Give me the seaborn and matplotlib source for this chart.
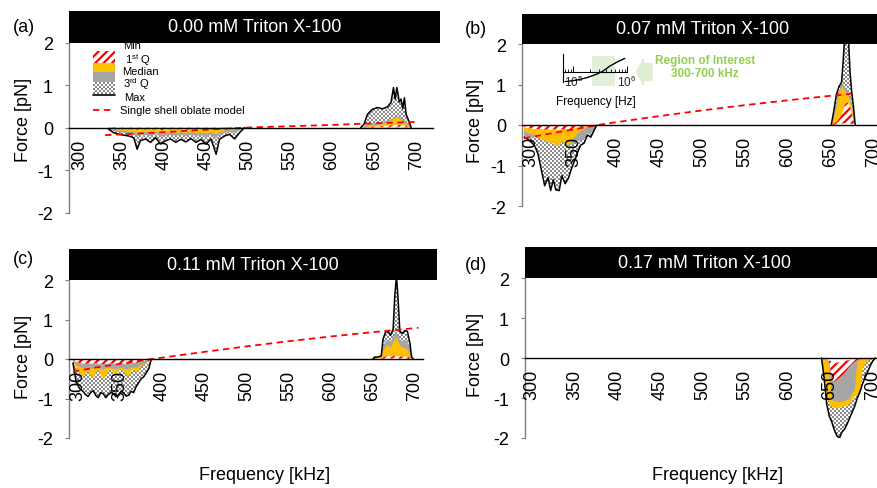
import numpy as np
import matplotlib
matplotlib.use("Agg")
import matplotlib.pyplot as plt
import seaborn as sns
from matplotlib.patches import Rectangle, FancyArrow
from matplotlib.lines import Line2D
from matplotlib.path import Path
from matplotlib.colors import ListedColormap
from matplotlib.ticker import LogLocator, NullFormatter

sns.set_theme(style="white")
plt.rcParams["font.family"] = ["Liberation Sans", "DejaVu Sans"]
plt.rcParams["mathtext.fontset"] = "custom"
plt.rcParams["mathtext.rm"] = "Liberation Sans"
plt.rcParams["mathtext.it"] = "Liberation Sans:italic"
plt.rcParams["mathtext.bf"] = "Liberation Sans:bold"
plt.rcParams["axes.unicode_minus"] = False
plt.rcParams["hatch.color"] = "#ff0000"
plt.rcParams["hatch.linewidth"] = 1.6
plt.rcParams["text.color"] = "black"

# ---------------- data ----------------
titles = ["0.00 mM Triton X-100", "0.07 mM Triton X-100",
          "0.11 mM Triton X-100", "0.17 mM Triton X-100"]
panel_letters = ["(a)", "(b)", "(c)", "(d)"]
xtick_values = [300, 350, 400, 450, 500, 550, 600, 650, 700]
ytick_values = [-2, -1, 0, 1, 2]

# (a) 0.00 mM
a_neg_freq = [334, 340, 346, 352, 358, 364, 368, 372, 378, 384, 390, 396, 402, 408, 414,
              420, 426, 432, 438, 444, 450, 456, 462, 466, 472, 478, 484, 490, 496]
a_neg_max = [-0.04, -0.12, -0.16, -0.18, -0.2, -0.24, -0.51, -0.31, -0.27, -0.35, -0.24, -0.39, -0.31, -0.27, -0.35,
             -0.28, -0.34, -0.26, -0.35, -0.28, -0.39, -0.27, -0.63, -0.28, -0.2, -0.16, -0.27, -0.12, 0.0]
a_neg_q3 = [-0.02, -0.08, -0.1, -0.12, -0.14, -0.15, -0.22, -0.18, -0.16, -0.2, -0.15, -0.22, -0.19, -0.17, -0.2,
            -0.17, -0.2, -0.16, -0.2, -0.18, -0.22, -0.17, -0.25, -0.17, -0.13, -0.1, -0.12, -0.06, 0.0]
a_neg_med = [-0.01, -0.05, -0.07, -0.08, -0.1, -0.1, -0.14, -0.12, -0.1, -0.13, -0.1, -0.14, -0.12, -0.11, -0.13,
             -0.11, -0.14, -0.1, -0.14, -0.12, -0.15, -0.11, -0.16, -0.11, -0.08, -0.06, -0.07, -0.03, 0.0]
a_neg_q1 = [0.0, -0.02, -0.03, -0.03, -0.04, -0.04, -0.05, -0.05, -0.04, -0.05, -0.04, -0.06, -0.05, -0.04, -0.05,
            -0.04, -0.05, -0.04, -0.05, -0.05, -0.06, -0.04, -0.06, -0.04, -0.03, -0.02, -0.03, -0.01, 0.0]
a_neg_min = [0.0, 0.0, -0.01, -0.01, -0.01, -0.01, -0.01, -0.01, -0.01, -0.01, -0.01, -0.01, -0.01, -0.01, -0.01,
             -0.01, -0.01, -0.01, -0.01, -0.01, -0.01, -0.01, -0.01, -0.01, -0.01, -0.01, 0.0, 0.0, 0.0]
a_pos_freq = [634, 638, 642, 648, 654, 660, 666, 670, 673, 675, 677, 680, 682, 684, 686, 688, 692, 694]
a_pos_max = [0.0, 0.08, 0.31, 0.43, 0.47, 0.44, 0.49, 0.59, 0.94, 0.67, 0.94, 0.6, 0.67, 0.45, 0.7, 0.31, 0.12, 0.0]
a_pos_q3 = [0.0, 0.03, 0.07, 0.09, 0.11, 0.13, 0.17, 0.2, 0.23, 0.24, 0.27, 0.25, 0.22, 0.19, 0.17, 0.12, 0.05, 0.0]
a_pos_med = [0.0, 0.01, 0.03, 0.05, 0.06, 0.08, 0.12, 0.16, 0.2, 0.22, 0.25, 0.22, 0.18, 0.14, 0.12, 0.08, 0.03, 0.0]
a_pos_q1 = [0.0, 0.0, 0.01, 0.02, 0.02, 0.03, 0.04, 0.05, 0.06, 0.06, 0.07, 0.06, 0.05, 0.05, 0.04, 0.03, 0.01, 0.0]
a_pos_min = [0.0, 0.0, 0.0, 0.0, 0.01, 0.01, 0.01, 0.02, 0.02, 0.02, 0.02, 0.02, 0.02, 0.01, 0.01, 0.01, 0.0, 0.0]
a_model_freq = [330, 350, 400, 450, 500, 550, 600, 650, 700]
a_model = [-0.18, -0.16, -0.11, -0.05, 0.0, 0.03, 0.06, 0.1, 0.13]

# (b) 0.07 mM
b_neg_freq = [292, 296, 300, 304, 308, 312, 316, 320, 323, 326, 329, 333, 336, 340, 344, 347, 351, 355,
              358, 362, 366, 370, 374, 377]
b_neg_max = [-0.3, -0.35, -0.42, -0.5, -0.7, -1.1, -1.5, -1.3, -1.62, -1.35, -1.6, -1.62, -1.25, -1.45, -1.3,
             -1.1, -0.88, -0.65, -0.5, -0.45, -0.25, -0.3, -0.12, 0.0]
b_neg_q3 = [-0.3, -0.32, -0.3, -0.28, -0.32, -0.36, -0.4, -0.42, -0.47, -0.44, -0.52, -0.5, -0.42, -0.47, -0.52,
            -0.48, -0.45, -0.4, -0.38, -0.35, -0.2, -0.22, -0.08, 0.0]
b_neg_med = [-0.15, -0.2, -0.22, -0.25, -0.3, -0.35, -0.38, -0.4, -0.45, -0.42, -0.5, -0.48, -0.4, -0.45, -0.5,
             -0.42, -0.3, -0.2, -0.15, -0.1, -0.05, -0.04, -0.02, 0.0]
b_neg_q1 = [-0.06, -0.08, -0.08, -0.1, -0.1, -0.1, -0.12, -0.1, -0.12, -0.1, -0.12, -0.12, -0.1, -0.1, -0.12,
            -0.1, -0.08, -0.06, -0.05, -0.04, -0.02, -0.02, -0.01, 0.0]
b_neg_min = [-0.01, -0.01, -0.02, -0.02, -0.02, -0.02, -0.02, -0.02, -0.02, -0.02, -0.02, -0.02, -0.02, -0.02,
             -0.02, -0.02, -0.01, -0.01, -0.01, -0.01, 0.0, 0.0, 0.0, 0.0]
b_pos_freq = [651, 654, 657, 660, 663, 665, 667, 669, 671, 673, 675, 677, 679]
b_pos_max = [0.0, 0.35, 0.75, 0.95, 1.05, 1.6, 2.3, 2.4, 2.2, 1.3, 0.8, 0.45, 0.0]
b_pos_q3 = [0.0, 0.25, 0.55, 0.85, 1.0, 1.0, 0.95, 0.85, 0.8, 0.7, 0.55, 0.3, 0.0]
b_pos_med = [0.0, 0.15, 0.4, 0.75, 0.95, 0.92, 0.85, 0.75, 0.7, 0.6, 0.45, 0.25, 0.0]
b_pos_q1 = [0.0, 0.03, 0.08, 0.15, 0.25, 0.35, 0.5, 0.55, 0.55, 0.45, 0.3, 0.12, 0.0]
b_pos_min = [0.0, 0.0, 0.01, 0.02, 0.03, 0.04, 0.05, 0.05, 0.05, 0.04, 0.03, 0.01, 0.0]
b_model_freq = [292, 320, 350, 378, 400, 450, 500, 550, 600, 650, 680]
b_model = [-0.33, -0.22, -0.11, 0.0, 0.07, 0.22, 0.36, 0.49, 0.61, 0.72, 0.78]

# (c) 0.11 mM
c_neg_freq = [294, 298, 302, 306, 309, 312, 315, 318, 321, 324, 327, 330, 333, 336, 339, 342, 345, 348,
              351, 354, 357, 360, 363, 366, 369, 372, 375, 378, 381, 384, 387]
c_neg_max = [-0.1, -0.6, -0.75, -0.82, -0.9, -0.95, -0.85, -0.8, -0.92, -0.98, -0.85, -0.88, -0.98, -0.9, -0.85,
             -0.87, -0.95, -0.93, -0.82, -0.85, -0.94, -0.92, -0.82, -0.85, -0.7, -0.6, -0.5, -0.45, -0.35, -0.25, 0.0]
c_neg_q3 = [-0.03, -0.15, -0.2, -0.22, -0.24, -0.22, -0.25, -0.24, -0.22, -0.23, -0.25, -0.26, -0.24, -0.22,
            -0.23, -0.25, -0.26, -0.24, -0.22, -0.24, -0.26, -0.25, -0.23, -0.22, -0.22, -0.2, -0.15, -0.12,
            -0.08, -0.04, 0.0]
c_neg_med = [-0.05, -0.25, -0.35, -0.45, -0.38, -0.3, -0.42, -0.5, -0.35, -0.28, -0.4, -0.52, -0.45, -0.3, -0.25,
             -0.35, -0.42, -0.3, -0.25, -0.3, -0.4, -0.45, -0.32, -0.25, -0.35, -0.3, -0.2, -0.15, -0.1, -0.05, 0.0]
c_neg_q1 = [-0.02, -0.08, -0.1, -0.12, -0.12, -0.11, -0.12, -0.12, -0.11, -0.12, -0.12, -0.13, -0.12, -0.11,
            -0.12, -0.12, -0.13, -0.12, -0.11, -0.12, -0.12, -0.12, -0.11, -0.1, -0.1, -0.08, -0.06, -0.05,
            -0.04, -0.02, 0.0]
c_neg_min = [0.0, -0.01, -0.02, -0.02, -0.02, -0.02, -0.02, -0.02, -0.02, -0.02, -0.02, -0.02, -0.02, -0.02,
             -0.02, -0.02, -0.02, -0.02, -0.02, -0.02, -0.02, -0.02, -0.02, -0.02, -0.01, -0.01, -0.01, 0.0,
             0.0, 0.0, 0.0]
c_pos_freq = [650, 652, 656, 660, 662, 665, 668, 671, 674, 676, 678, 680, 682, 685, 688, 691, 694, 696, 698]
c_pos_max = [0.0, 0.05, 0.05, 0.08, 0.5, 0.68, 0.7, 0.6, 0.75, 1.6, 2.1, 1.5, 0.7, 0.65, 0.72, 0.7, 0.4, 0.05, 0.0]
c_pos_q3 = [0.0, 0.03, 0.03, 0.05, 0.3, 0.45, 0.5, 0.45, 0.55, 0.6, 0.65, 0.6, 0.5, 0.45, 0.48, 0.45, 0.25, 0.03, 0.0]
c_pos_med = [0.0, 0.02, 0.02, 0.04, 0.2, 0.3, 0.35, 0.3, 0.4, 0.5, 0.55, 0.45, 0.35, 0.3, 0.28, 0.25, 0.12, 0.02, 0.0]
c_pos_q1 = [0.0, 0.01, 0.01, 0.02, 0.04, 0.06, 0.08, 0.06, 0.07, 0.08, 0.08, 0.07, 0.06, 0.06, 0.07, 0.05, 0.04, 0.01, 0.0]
c_pos_min = [0.0, 0.0, 0.0, 0.0, 0.01, 0.01, 0.02, 0.01, 0.02, 0.02, 0.02, 0.02, 0.01, 0.01, 0.01, 0.01, 0.0, 0.0, 0.0]
c_model_freq = [294, 320, 350, 388, 450, 500, 550, 600, 650, 704]
c_model = [-0.32, -0.22, -0.12, 0.0, 0.18, 0.32, 0.45, 0.57, 0.68, 0.79]

# (d) 0.17 mM
d_neg_freq = [640, 643, 646, 649, 652, 655, 658, 661, 664, 667, 670, 673, 676, 679, 682, 685, 688, 691,
              694, 697, 700, 703]
d_neg_max = [0.0, -0.5, -1.15, -1.45, -1.6, -1.8, -1.95, -2.0, -1.85, -1.78, -1.65, -1.5, -1.35, -1.2, -1.0,
             -0.85, -0.65, -0.5, -0.35, -0.2, -0.08, 0.0]
d_neg_q3 = [0.0, -0.02, -0.05, -0.2, -1.05, -1.08, -1.1, -1.1, -1.1, -1.08, -1.05, -1.02, -0.9, -0.8, -0.1,
            -0.05, -0.03, -0.02, -0.01, 0.0, 0.0, 0.0]
d_neg_med = [0.0, -0.4, -0.9, -1.15, -1.22, -1.25, -1.25, -1.25, -1.22, -1.2, -1.18, -1.15, -1.05, -0.95, -0.95,
             -0.9, -0.3, -0.15, -0.08, -0.04, -0.02, 0.0]
d_neg_q1 = [0.0, -0.01, -0.02, -0.1, -0.5, -0.6, -0.55, -0.5, -0.45, -0.38, -0.3, -0.22, -0.15, -0.1, -0.05,
            -0.02, -0.01, 0.0, 0.0, 0.0, 0.0, 0.0]
d_neg_min = [0.0, 0.0, 0.0, -0.05, -0.1, -0.12, -0.12, -0.1, -0.1, -0.08, -0.06, -0.05, -0.03, -0.02, 0.0,
             0.0, 0.0, 0.0, 0.0, 0.0, 0.0, 0.0]

# inset (b): model factor vs frequency [Hz]
inset_freq_hz = [6.9e4, 1.16e5, 1.79e5, 2.75e5, 3.55e5, 4.8e5, 6.5e5, 9.1e5]
inset_value = [-0.66, -0.54, -0.37, -0.12, 0.09, 0.45, 0.73, 0.99]

regions = [
    [(a_neg_freq, a_neg_min, a_neg_q1, a_neg_med, a_neg_q3, a_neg_max),
     (a_pos_freq, a_pos_min, a_pos_q1, a_pos_med, a_pos_q3, a_pos_max)],
    [(b_neg_freq, b_neg_min, b_neg_q1, b_neg_med, b_neg_q3, b_neg_max),
     (b_pos_freq, b_pos_min, b_pos_q1, b_pos_med, b_pos_q3, b_pos_max)],
    [(c_neg_freq, c_neg_min, c_neg_q1, c_neg_med, c_neg_q3, c_neg_max),
     (c_pos_freq, c_pos_min, c_pos_q1, c_pos_med, c_pos_q3, c_pos_max)],
    [(d_neg_freq, d_neg_min, d_neg_q1, d_neg_med, d_neg_q3, d_neg_max)],
]
models = [(a_model_freq, a_model), (b_model_freq, b_model), (c_model_freq, c_model), None]

# ---------------- layout (pixels) ----------------
W, H = 877, 489
ORANGE, GRAY, RED = "#ffc000", "#a6a6a6", "#ff0000"
CHECK = ListedColormap(["white", "#8a8a8a"])

geom = [
    dict(l=69, t=43.5, r=433, b=213.5, xlim=(287, 720), bar_top=12, bar_right=440,
         letter=(13, 28), ylab=(24, 120)),
    dict(l=522, t=45, r=880, b=207, xlim=(289.5, 708), bar_top=15, bar_right=884,
         letter=(465, 30), ylab=(476, 121)),
    dict(l=69, t=281, r=423, b=439, xlim=(289.3, 709.5), bar_top=250, bar_right=437,
         letter=(13, 259), ylab=(24, 357)),
    dict(l=525, t=279, r=880, b=439, xlim=(291.8, 708.6), bar_top=248, bar_right=883,
         letter=(465, 266), ylab=(476, 355)),
]


def px_rect(l, t, r, b):
    return [l / W, 1 - b / H, (r - l) / W, (b - t) / H]


def checker(ny, nx):
    return np.indices((ny, nx)).sum(axis=0) % 2


def draw_region(ax, f, mn, q1, med, q3, mx):
    f = np.asarray(f, float)
    mn, q1, med, q3, mx = (np.asarray(v, float) for v in (mn, q1, med, q3, mx))
    ax.fill_between(f, 0, med, facecolor=ORANGE, edgecolor="none", lw=0, zorder=1.3)
    ax.fill_between(f, 0, q3, facecolor=GRAY, edgecolor="none", lw=0, zorder=1.4)
    inner = np.abs(med) <= np.abs(q3)
    ax.fill_between(f, 0, med, where=inner, facecolor=ORANGE, edgecolor="none", lw=0, zorder=1.5)
    ax.fill_between(f, 0, q1, facecolor="white", edgecolor=RED, hatch="////", lw=0, zorder=1.6)
    ax.fill_between(f, 0, mn, facecolor="white", edgecolor="none", lw=0, zorder=1.7)
    sns.lineplot(x=f, y=mx, ax=ax, color="black", linewidth=1.1, estimator=None,
                 sort=False, legend=False, zorder=1.8)
    poly = ax.fill_between(f, 0, mx, facecolor="none", edgecolor="none", lw=0)
    return poly.get_paths()


fig = plt.figure(figsize=(W / 100, H / 100), dpi=100)
fig.patch.set_facecolor("white")

axes = []
for i, g in enumerate(geom):
    ax = fig.add_axes(px_rect(g["l"], g["t"], g["r"], g["b"]))
    axes.append(ax)
    ax.set_facecolor("white")
    paths = []
    for reg in regions[i]:
        paths += draw_region(ax, *reg)
    wpx, hpx = g["r"] - g["l"], g["b"] - g["t"]
    im = ax.imshow(checker(int(round(hpx / 2)), int(round(wpx / 2))), cmap=CHECK, vmin=0, vmax=1,
                   extent=(g["xlim"][0], g["xlim"][1], -2, 2), aspect="auto",
                   interpolation="nearest", zorder=1.2)
    im.set_clip_path(Path.make_compound_path(*paths), transform=ax.transData)
    if models[i] is not None:
        sns.lineplot(x=models[i][0], y=models[i][1], ax=ax, color=RED, linewidth=1.3,
                     estimator=None, sort=False, legend=False, zorder=1.9)
        ax.lines[-1].set_dashes([3.5, 2.5])
    ax.set_xlim(*g["xlim"])
    ax.set_ylim(-2, 2)
    ax.set_xticks(xtick_values)
    ax.set_xticklabels([str(v) for v in xtick_values])
    ax.set_yticks(ytick_values)
    ax.set_yticklabels([str(v) for v in ytick_values])
    for s in ("top", "right"):
        ax.spines[s].set_visible(False)
    ax.spines["bottom"].set_position(("data", 0))
    ax.spines["bottom"].set_color("black")
    ax.spines["bottom"].set_linewidth(1.0)
    ax.spines["left"].set_color("#7f7f7f")
    ax.spines["left"].set_linewidth(1.0)
    ax.tick_params(axis="x", bottom=True, length=0, pad=8, labelsize=13,
                   labelrotation=90, labelcolor="black")
    ax.tick_params(axis="y", left=True, length=3, width=0.8, color="#7f7f7f", pad=8.5,
                   labelsize=13, labelcolor="black")
    ax.xaxis.set_zorder(5)
    ax.set_xlabel("")
    ax.set_ylabel("")
    # title bar
    bh = (g["t"] - g["bar_top"]) / hpx
    bw = (g["bar_right"] - g["l"]) / wpx
    ax.add_patch(Rectangle((0, 1), bw, bh, transform=ax.transAxes, facecolor="black",
                           edgecolor="none", clip_on=False, zorder=6))
    ax.text(bw / 2, 1 + bh / 2, titles[i], transform=ax.transAxes, ha="center", va="center",
            color="white", fontsize=13, zorder=7, clip_on=False)
    fig.text(g["letter"][0] / W, 1 - g["letter"][1] / H, panel_letters[i], ha="left",
             va="center", fontsize=13)
    fig.text(g["ylab"][0] / W, 1 - g["ylab"][1] / H, "Force [pN]", rotation=90, ha="center",
             va="center", fontsize=13)

fig.text(265 / W, 1 - 476 / H, "Frequency [kHz]", ha="center", va="center", fontsize=13)
fig.text(718 / W, 1 - 476 / H, "Frequency [kHz]", ha="center", va="center", fontsize=13)

# ---------------- legend in (a) ----------------
fig.add_artist(Rectangle((93 / W, 1 - 64 / H), 22 / W, 12 / H, transform=fig.transFigure,
                         facecolor="white", edgecolor=RED, hatch="////", lw=0))
fig.add_artist(Rectangle((93 / W, 1 - 73 / H), 22 / W, 9 / H, transform=fig.transFigure,
                         facecolor=ORANGE, edgecolor="none", lw=0))
fig.add_artist(Rectangle((93 / W, 1 - 83 / H), 22 / W, 10 / H, transform=fig.transFigure,
                         facecolor=GRAY, edgecolor="none", lw=0))
sw = fig.add_axes(px_rect(93, 83, 115, 95))
sw.imshow(checker(6, 11), cmap=CHECK, vmin=0, vmax=1, aspect="auto", interpolation="nearest")
sw.axis("off")
fig.add_artist(Line2D([93 / W, 115 / W], [1 - 95.5 / H, 1 - 95.5 / H], color="black", lw=1.2))
fig.add_artist(Line2D([93 / W, 113 / W], [1 - 111 / H, 1 - 111 / H], color=RED, lw=1.3,
                      dashes=[3.5, 2.5]))
leg_items = [("Min", 123, 46), ("1$^{\\mathrm{st}}$ Q", 125, 60), ("Median", 122, 72.5),
             ("3$^{\\mathrm{rd}}$ Q", 123, 84.5), ("Max", 124, 98),
             ("Single shell oblate model", 120, 111)]
for txt, x, y in leg_items:
    fig.text(x / W, 1 - y / H, txt, ha="left", va="center", fontsize=8)

# ---------------- inset in (b) ----------------
ins = fig.add_axes(px_rect(563, 55, 627, 83.3))
ins.patch.set_alpha(0)
ins.add_patch(Rectangle((0.453, -0.13), 0.36, 1.06, transform=ins.transAxes,
                        facecolor="#e2efda", edgecolor="none", clip_on=False, zorder=0))
sns.lineplot(x=inset_freq_hz, y=inset_value, ax=ins, color="black", linewidth=1.0,
             estimator=None, sort=False, legend=False, zorder=3)
ins.set_xscale("log")
ins.set_xlim(6.37e4, 1.0e6)
ins.set_ylim(-0.7, 1.3)
for s in ("top", "right"):
    ins.spines[s].set_visible(False)
ins.spines["bottom"].set_position(("data", 0))
for s in ("bottom", "left"):
    ins.spines[s].set_color("black")
    ins.spines[s].set_linewidth(0.8)
ins.set_xticks([1e5, 1e6])
ins.set_xticklabels(["$10^5$", "$10^6$"])
ins.xaxis.set_minor_locator(LogLocator(base=10, subs=np.arange(2, 10)))
ins.xaxis.set_minor_formatter(NullFormatter())
ins.tick_params(axis="x", which="major", bottom=True, direction="in", length=4, width=0.7,
                pad=1, labelsize=8.5, color="black")
ins.tick_params(axis="x", which="minor", bottom=True, direction="in", length=2.5, width=0.6,
                color="black")
ins.set_yticks([])
ins.set_xlabel("")
ins.set_ylabel("")
fig.text(596 / W, 1 - 102 / H, "Frequency [Hz]", ha="center", va="center", fontsize=8.5)
fig.add_artist(FancyArrow(6.52, (H - 73) / 100, -0.155, 0, width=0.17, head_width=0.26,
                          head_length=0.07, length_includes_head=True, color="#dcedd0",
                          transform=fig.dpi_scale_trans))
fig.text(705 / W, 1 - 61 / H, "Region of Interest", ha="center", va="center", fontsize=8.5,
         fontweight="bold", color="#92d050")
fig.text(705 / W, 1 - 74 / H, "300-700 kHz", ha="center", va="center", fontsize=8.5,
         fontweight="bold", color="#92d050")

fig.savefig("out.png", dpi=100)
